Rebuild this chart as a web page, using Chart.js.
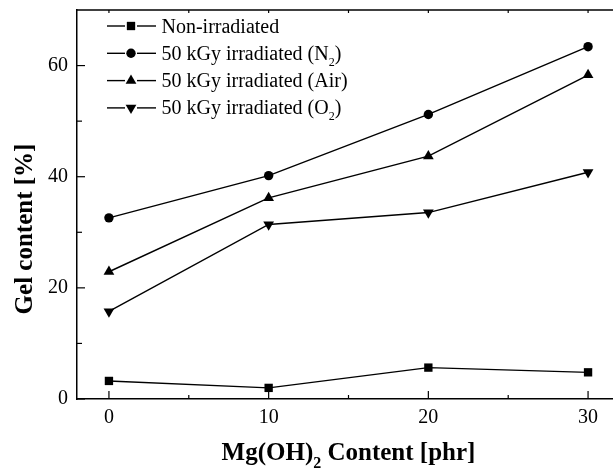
<!DOCTYPE html>
<html>
<head>
<meta charset="utf-8">
<script src="https://cdn.jsdelivr.net/npm/chart.js@4.4.1/dist/chart.umd.min.js"></script>
<style>
    html, body { margin: 0; padding: 0; background: #fff; overflow: hidden; }
    #contenedor { width: 613px; height: 473px; overflow: hidden; }
</style>
</head>
<body>
<div id="contenedor"><canvas id="grafica-gel" width="640" height="473"></canvas></div>
<script>
    // Datos
    const contenido = [0, 10, 20, 30];
    const noIrradiado = [3.25, 2.0, 5.65, 4.8];
    const irradiadoN2 = [32.6, 40.2, 51.2, 63.4];
    const irradiadoAire = [22.9, 36.2, 43.7, 58.3];
    const irradiadoO2 = [15.75, 31.4, 33.55, 40.8];
    const etiquetas = ['Non-irradiated', '50 kGy irradiated (N_2)', '50 kGy irradiated (Air)', '50 kGy irradiated (O_2)'];
    const ticksX = [0, 5, 10, 15, 20, 25, 30];
    const ticksY = [0, 10, 20, 30, 40, 50, 60];
    const tituloX = 'Mg(OH)_2 Content [phr]';
    const tituloY = 'Gel content [%]';

    const fuente = "'Liberation Serif', 'Times New Roman', serif";

    const estilos = [
        { pointStyle: 'rect', radius: 5.9, rotation: 0 },
        { pointStyle: 'circle', radius: 4.7, rotation: 0 },
        { pointStyle: 'triangle', radius: 6.2, rotation: 0 },
        { pointStyle: 'triangle', radius: 6.2, rotation: 180 }
    ];

    // texto con subíndices marcados como _2
    function escribir(ctx, texto, x, y, tam, peso, alinear) {
        const partes = texto.split(/_(\d)/);
        const normal = `${peso} ${tam}px ${fuente}`;
        const sub = `${peso} ${Math.round(tam * 0.62)}px ${fuente}`;
        let ancho = 0;
        partes.forEach((p, i) => {
            ctx.font = i % 2 ? sub : normal;
            ancho += ctx.measureText(p).width;
        });
        let cx = alinear === 'center' ? x - ancho / 2 : x;
        ctx.textAlign = 'left';
        ctx.textBaseline = 'alphabetic';
        partes.forEach((p, i) => {
            ctx.font = i % 2 ? sub : normal;
            ctx.fillText(p, cx, i % 2 ? y + tam * 0.3 : y);
            cx += ctx.measureText(p).width;
        });
    }

    function linea(ctx, x1, y1, x2, y2) {
        ctx.beginPath();
        ctx.moveTo(x1, y1);
        ctx.lineTo(x2, y2);
        ctx.stroke();
    }

    const marco = {
        id: 'marco',
        afterDraw(chart) {
            const { ctx, chartArea: a, scales: { x, y } } = chart;
            ctx.save();
            ctx.strokeStyle = '#000';
            ctx.fillStyle = '#000';
            ctx.lineWidth = 1.5;
            linea(ctx, a.left, a.top, a.right, a.top);

            ctx.lineWidth = 1.2;
            x.ticks.forEach(t => {
                const px = x.getPixelForValue(t.value);
                const largo = t.value % 10 === 0 ? 8 : 4;
                linea(ctx, px, a.bottom, px, a.bottom - largo);
                linea(ctx, px, a.top, px, a.top + 3);
            });
            y.ticks.forEach(t => {
                const py = y.getPixelForValue(t.value);
                const largo = t.value % 20 === 0 ? 8 : 5;
                linea(ctx, a.left, py, a.left + largo, py);
            });

            // títulos de ejes
            escribir(ctx, tituloX, (a.left + a.right) / 2, 460, 25, 'bold', 'center');
            ctx.save();
            ctx.translate(32, 229);
            ctx.rotate(-Math.PI / 2);
            escribir(ctx, tituloY, 0, 0, 25, 'bold', 'center');
            ctx.restore();

            // leyenda
            ctx.lineWidth = 1.4;
            etiquetas.forEach((etiqueta, i) => {
                const fy = 26 + i * 27.3;
                linea(ctx, 107, fy, 125, fy);
                linea(ctx, 137, fy, 156, fy);
                Chart.helpers.drawPoint(ctx, { ...estilos[i], borderWidth: 0 }, 131, fy);
                escribir(ctx, etiqueta, 161.5, fy + 6.5, 20, 'normal', 'left');
            });
            ctx.restore();
        }
    };

    const series = [noIrradiado, irradiadoN2, irradiadoAire, irradiadoO2];
    const datasets = series.map((valores, i) => ({
        label: etiquetas[i].replace('_', ''),
        data: valores.map((v, j) => ({ x: contenido[j], y: v })),
        borderColor: '#000',
        backgroundColor: '#000',
        borderWidth: 1.4,
        pointStyle: estilos[i].pointStyle,
        pointRadius: estilos[i].radius,
        pointRotation: estilos[i].rotation,
        pointBorderWidth: 0,
        pointBackgroundColor: '#000',
        tension: 0
    }));

    const ctx = document.getElementById('grafica-gel');

    new Chart(ctx, {
        type: 'line',
        data: { datasets: datasets },
        options: {
            responsive: false,
            animation: false,
            layout: {
                padding: { top: 10, right: 20, left: 0, bottom: 0 }
            },
            plugins: {
                legend: { display: false },
                tooltip: { enabled: false },
                title: { display: false }
            },
            scales: {
                x: {
                    type: 'linear',
                    min: -2,
                    max: 32,
                    afterBuildTicks: s => { s.ticks = ticksX.map(v => ({ value: v })); },
                    afterFit: s => {
                        s.height = 74;
                        s.paddingLeft = 0;
                        s.paddingRight = 0;
                    },
                    grid: { display: false },
                    border: { display: true, color: '#000', width: 1.5 },
                    ticks: {
                        color: '#000',
                        padding: -1,
                        maxRotation: 0,
                        autoSkip: false,
                        font: { family: fuente, size: 20 },
                        callback: v => (v % 10 === 0 ? v : '')
                    }
                },
                y: {
                    min: 0,
                    max: 70,
                    afterBuildTicks: s => { s.ticks = ticksY.map(v => ({ value: v })); },
                    afterFit: s => {
                        s.width = 77;
                        s.paddingTop = 0;
                        s.paddingBottom = 0;
                    },
                    grid: { display: false },
                    border: { display: true, color: '#000', width: 1.5 },
                    ticks: {
                        color: '#000',
                        padding: 1,
                        autoSkip: false,
                        font: { family: fuente, size: 20 },
                        callback: v => (v % 20 === 0 ? v : '')
                    }
                }
            }
        },
        plugins: [marco]
    });
</script>
</body>
</html>
